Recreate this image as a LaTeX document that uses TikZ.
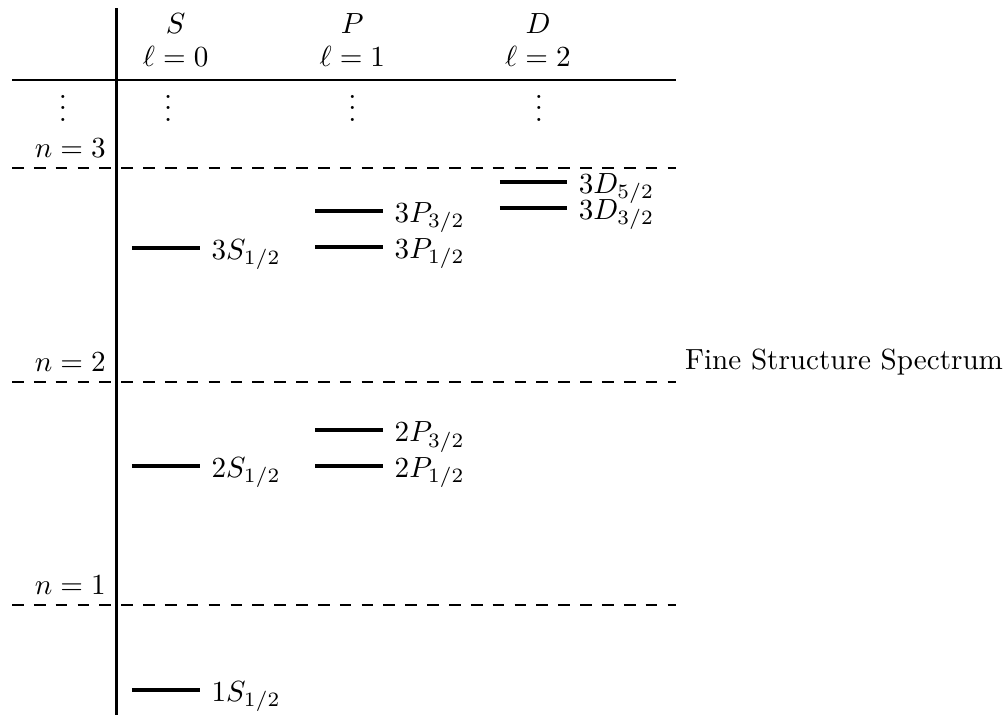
\documentclass[tikz,border=0pt]{standalone}
\usepackage{amsmath,amssymb}
\usepackage{tikz}
\tikzset{
  level/.style={line width=1.4pt},
  shell/.style={line width=0.9pt, dash pattern=on 4pt off 3.5pt},
  lbl/.style={anchor=base west, yshift=-4pt}
}

\begin{document}
\begin{tikzpicture}
\useasboundingbox (0,0) rectangle (12.16,-8.625);
% table rules
\draw[line width=1pt] (1.40,-0.10) -- (1.40,-8.625);
\draw[line width=0.9pt] (0.145,-0.965) -- (8.155,-0.965);
%
\draw (2.12,-0.29) node (hS) {$S$};
\draw (2.12,-0.675) node (lS) {$\ell=0$};
\draw (4.25,-0.29) node (hP) {$P$};
\draw (4.25,-0.675) node (lP) {$\ell=1$};
\draw (6.49,-0.29) node (hD) {$D$};
\draw (6.49,-0.675) node (lD) {$\ell=2$};
%
\draw (0.76,-1.2) node (dn) {$\vdots$};
\draw (2.03,-1.2) node (dS) {$\vdots$};
\draw (4.25,-1.2) node (dP) {$\vdots$};
\draw (6.50,-1.2) node (dD) {$\vdots$};
% shells
\draw[shell] (0.145,-2.027) -- (8.155,-2.027);
\draw (1.40,-1.785) node[anchor=east] (n3) {$n=3$};
\draw[shell] (0.145,-4.608) -- (8.155,-4.608);
\draw (1.40,-4.37) node[anchor=east] (n2) {$n=2$};
\draw[shell] (0.145,-7.298) -- (8.155,-7.298);
\draw (1.40,-7.06) node[anchor=east] (n1) {$n=1$};
%
\draw (8.14,-4.37) node[anchor=west] (title) {Fine Structure Spectrum};
% n=3 levels
\draw[level] (1.59,-2.99) -- (2.41,-2.99) node[lbl] (s3) {$3S_{1/2}$};
\draw[level] (3.80,-2.545) -- (4.62,-2.545) node[lbl] (p3b) {$3P_{3/2}$};
\draw[level] (3.80,-2.98) -- (4.62,-2.98) node[lbl] (p3a) {$3P_{1/2}$};
\draw[level] (6.03,-2.195) -- (6.84,-2.195) node[lbl] (d3b) {$3D_{5/2}$};
\draw[level] (6.03,-2.51) -- (6.84,-2.51) node[lbl] (d3a) {$3D_{3/2}$};
% n=2 levels
\draw[level] (1.59,-5.62) -- (2.41,-5.62) node[lbl] (s2) {$2S_{1/2}$};
\draw[level] (3.80,-5.19) -- (4.62,-5.19) node[lbl] (p2b) {$2P_{3/2}$};
\draw[level] (3.80,-5.62) -- (4.62,-5.62) node[lbl] (p2a) {$2P_{1/2}$};
% n=1 level
\draw[level] (1.59,-8.32) -- (2.41,-8.32) node[lbl] (s1) {$1S_{1/2}$};
\end{tikzpicture}
\end{document}
